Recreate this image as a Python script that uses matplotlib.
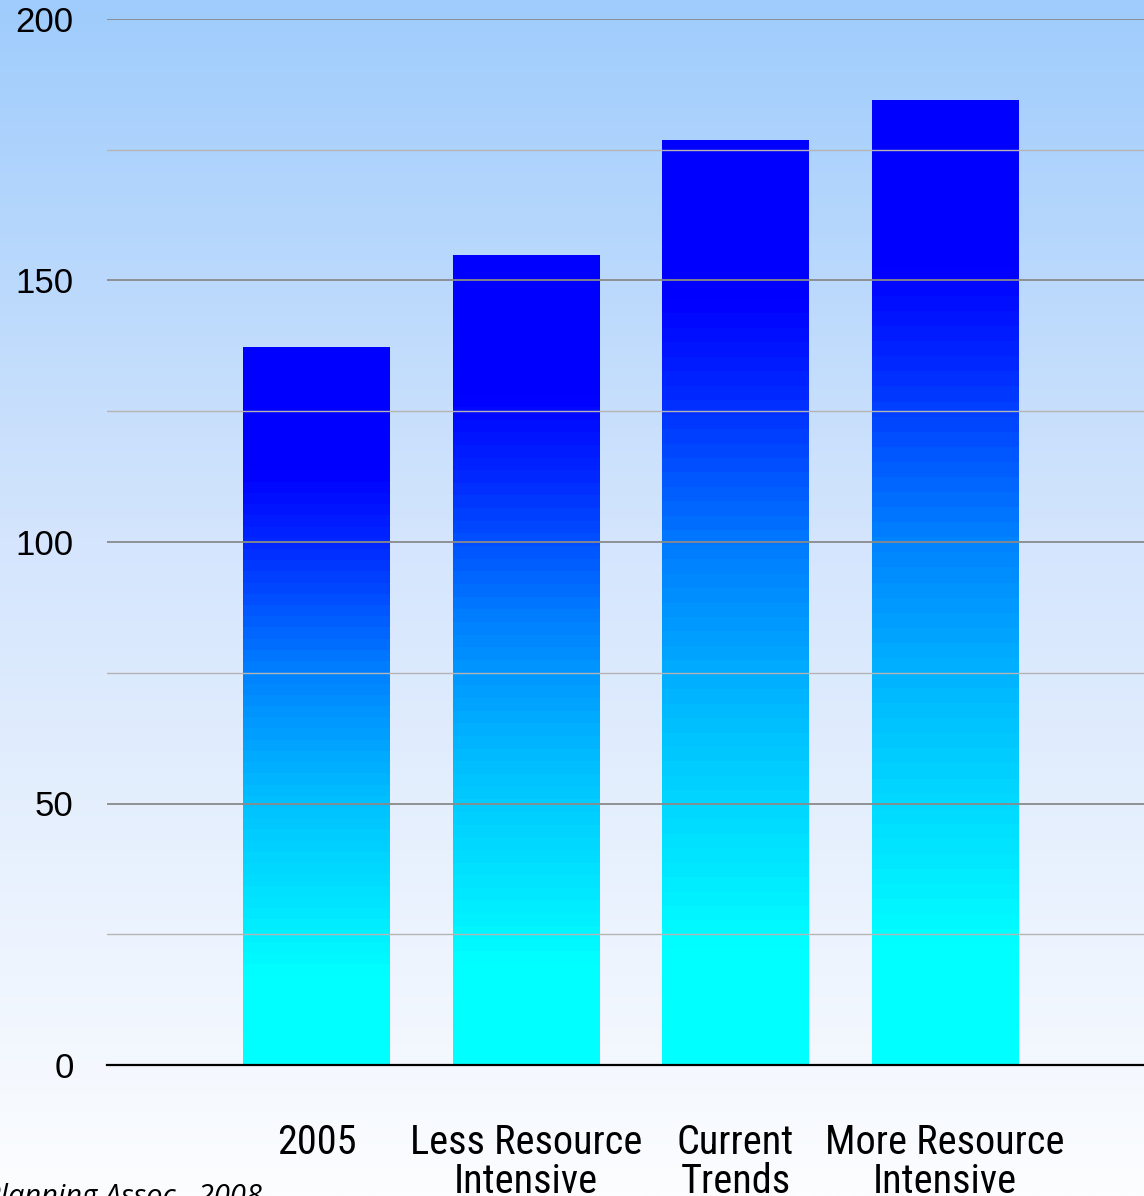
import numpy as np
import matplotlib
matplotlib.use('Agg')
import matplotlib.pyplot as plt
from matplotlib import font_manager
from matplotlib.colors import LinearSegmentedColormap

# Scenario totals
categories = ['2005', 'Less Resource\nIntensive', 'Current\nTrends',
              'More Resource\nIntensive']
values = [137.1, 154.7, 176.7, 184.5]
y_ticks = [0, 50, 100, 150, 200]
source = 'Planning Assoc., 2008'

# pick a narrow face for the category labels if one is around
fonts = font_manager.fontManager.ttflist
installed = {f.name for f in fonts}
cat_font = dict(family='Roboto', fontsize=25)
for fam in ['Liberation Sans Narrow', 'Roboto Condensed', 'Noto Sans Condensed',
            'Open Sans Condensed']:
    if fam in installed:
        cat_font = dict(family=fam, fontsize=29)
        break
else:
    if any(f.name == 'DejaVu Sans' and f.stretch == 'condensed' for f in fonts):
        cat_font = dict(family='DejaVu Sans', fontstretch='condensed',
                        fontsize=27)
regular = 'Liberation Sans' if 'Liberation Sans' in installed else 'DejaVu Sans'

W, H = 1144, 1196
fig = plt.figure(figsize=(W / 100, H / 100), dpi=100)

# slide background: light blue at the top fading to white
bg = fig.add_axes([0, 0, 1, 1], zorder=-10)
bg_cmap = LinearSegmentedColormap.from_list('bg', [
    (0.0, (252 / 255, 253 / 255, 255 / 255)),
    (0.55, (212 / 255, 229 / 255, 253 / 255)),
    (1.0, (159 / 255, 204 / 255, 252 / 255))])
bg.imshow(np.linspace(0, 1, 512).reshape(-1, 1), cmap=bg_cmap, origin='lower',
          aspect='auto', extent=(0, 1, 0, 1))
bg.set_axis_off()

ax = fig.add_axes([107 / W, 1 - 1065 / H, 1 - 107 / W, (1065 - 19) / H])
ax.patch.set_alpha(0)

# bar fill: cyan at the base, deep blue near the top (banded like the slide)
bar_cmap = LinearSegmentedColormap.from_list('bar', [
    (0.0, (0, 1, 1)),
    (0.12, (0, 1, 1)),
    (0.365, (0, 192 / 255, 1)),
    (0.55, (0, 128 / 255, 1)),
    (0.73, (0, 40 / 255, 1)),
    (0.83, (0, 0, 1)),
    (1.0, (0, 0, 1))], N=64)
grad = np.linspace(0, 1, 256).reshape(-1, 1)
width = 0.70
x = np.arange(len(categories))
for xi, v in zip(x, values):
    ax.imshow(grad, cmap=bar_cmap, origin='lower', aspect='auto',
              extent=(xi - width / 2, xi + width / 2, 0, v), zorder=1,
              interpolation='nearest')

ax.set_xlim(-1.0, 3.95)
ax.set_ylim(0, 200)

ax.set_yticks(y_ticks)
ax.set_yticks([25, 75, 125, 175], minor=True)
ax.set_axisbelow(False)
ax.grid(axis='y', which='major', color='#8a8a8a', lw=1.3, zorder=2)
ax.grid(axis='y', which='minor', color='#b4b4b4', lw=1.0, zorder=2)
ax.tick_params(axis='y', which='both', length=0, pad=24, labelsize=25)
for lab in ax.get_yticklabels():
    lab.set_family(regular)

ax.set_xticks(x)
ax.set_xticklabels(categories, linespacing=1.0, va='top', **cat_font)
ax.tick_params(axis='x', length=0, pad=42)

for s in ['top', 'right', 'left']:
    ax.spines[s].set_visible(False)
ax.spines['bottom'].set_color('black')
ax.spines['bottom'].set_linewidth(1.6)
ax.spines['bottom'].set_zorder(3)

fig.text(262 / W, 1 - 1183 / H, source, ha='right', va='top',
         family='Open Sans', style='italic', fontsize=21)

fig.savefig('out.png', dpi=100)
